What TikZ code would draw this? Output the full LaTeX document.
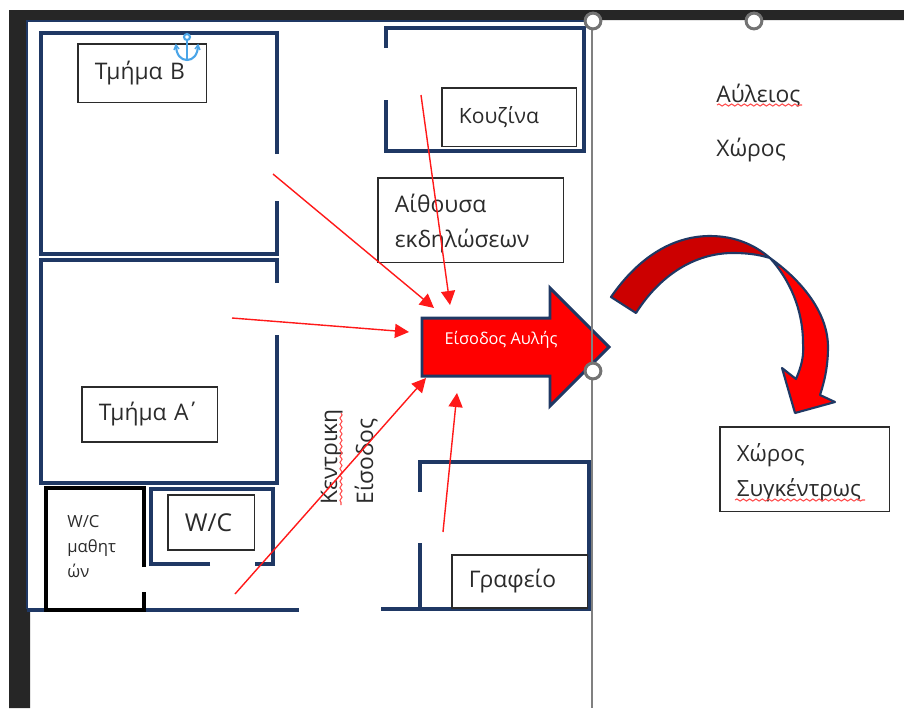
\documentclass[tikz,border=0pt]{standalone}
\usepackage{fontspec}
\setmainfont{Open Sans}
\usetikzlibrary{arrows.meta,decorations.pathmorphing}
\definecolor{wallblue}{HTML}{1F3864}
\definecolor{barblack}{HTML}{262626}
\definecolor{boxgray}{HTML}{2B2B2B}
\definecolor{anchorblue}{HTML}{4AA5E8}
\tikzset{
    wall/.style={wallblue, line width=1.8pt},
    blackwall/.style={black, line width=1.8pt},
    redarrow/.style={red!90, line width=0.8pt, -{Triangle[length=8pt,width=8pt]}},
    roombox/.style 2 args={draw=boxgray, line width=0.8pt, anchor=north west, align=left, inner xsep=9.6pt, inner ysep=0pt, outer sep=0pt,
        text width=#1*0.567pt-19.2pt, minimum height=#2*0.567pt, font=\fontsize{13}{20}\selectfont, text=boxgray},
    plainlabel/.style={anchor=base west, inner sep=0pt, font=\fontsize{13}{20}\selectfont, text=boxgray},
    squiggle/.style={red!70, line width=0.6pt, decorate, decoration={snake, amplitude=0.6pt, segment length=3.6pt}},
    handle/.style={circle, draw=gray!90!black, fill=white, line width=1.7pt, minimum size=9pt, inner sep=0pt},
    curved/.style={draw=wallblue, line width=1.2pt, line join=round}
}
\begin{document}
\begin{tikzpicture}[x=0.02cm, y=-0.02cm]
    \useasboundingbox (0,0) rectangle (904,708);
    \fill[barblack] (9,10) -- (904,10) -- (904,20) -- (27,20) -- (27,610) -- (30,610) -- (30,708) -- (9,708) -- cycle;
    \draw[wallblue, line width=1.3pt] (27,609) -- (27,21) -- (592,21);
    \draw[wall] (277,154) -- (277,33) -- (41,33) -- (41,254) -- (277,254) -- (277,201);
    \draw[wall] (277,283) -- (277,260) -- (41,260) -- (41,483) -- (277,483) -- (277,335);
    \draw[wall] (210,564) -- (151,564) -- (151,489) -- (273,489) -- (273,564) -- (255,564);
    \draw[wall] (386,48) -- (386,28) -- (584,28) -- (584,151) -- (386,151) -- (386,100);
    \draw[wall] (420,492) -- (420,462) -- (589,462) -- (589,608);
    \draw[wall] (420,543) -- (420,608);
    \draw[wall] (27,610) -- (299,610);
    \draw[wall] (381,609) -- (592,609);
    \draw[blackwall] (144,567) -- (144,488) -- (46,488) -- (46,610) -- (144,610) -- (144,592);

    \node[roombox={129}{59}] (tmimaB) at (78,44) {Τμήμα Β};
    \node[roombox={136}{55}] (tmimaA) at (82,387) {Τμήμα Α\kern-1.5pt΄};
    \node[roombox={87}{55}, font=\fontsize{14}{20}\selectfont] (wc) at (168,495) {W/C};
    \node[roombox={135}{59}, font=\fontsize{12}{20}\selectfont] (kouzina) at (442,88) {Κουζίνα};
    \node[roombox={186}{85}] (aithousa) at (378,178) {\rule{0pt}{14pt}Αίθουσα\\εκδηλώσεων};
    \node[roombox={136}{53}, fill=white] (grafeio) at (452,555) {Γραφείο};
    \node[roombox={170}{85}, font=\fontsize{12.7}{20}\selectfont] (synkentros) at (720,427) {\rule{0pt}{14pt}Χώρος\\Συγκέντρως};
    \node[plainlabel, align=left, font=\fontsize{9.5}{14}\selectfont] (wcstudents) at (67,577) {W/C\\μαθητ\\ών};
    \node[plainlabel] (avleios) at (716,102) {Αύλειος};
    \node[plainlabel] (choros) at (716,156) {Χώρος};
    \node[plainlabel, rotate=90] (kentriki) at (337,505) {Κεντρικη};
    \node[plainlabel, rotate=90] (eisodos) at (373,505) {Είσοδος};

    \coordinate (sqA) at (717,105);
    \coordinate (sqB) at (802,105);
    \coordinate (sqC) at (735,500);
    \coordinate (sqD) at (865,500);
    \coordinate (sqE) at (341,413);
    \coordinate (sqF) at (341,505);
    \draw[squiggle] (sqA) -- (sqB);
    \draw[squiggle] (sqC) -- (sqD);
    \draw[squiggle] (sqE) -- (sqF);

    \draw[fill=red, draw=wallblue, line width=1.7pt] (422,318) -- (550,318) -- (550,288) -- (609,347) -- (550,406) -- (550,376) -- (422,376) -- cycle;
    \node[white, inner sep=0pt, font=\fontsize{9.3}{10}\selectfont] (entrance) at (501,340) {Είσοδος Αυλής};

    \draw[curved, fill=red!80!black] (611,297) .. controls (640,255) and (675,236) .. (710,236) .. controls (735,236) and (755,245) .. (770,258) .. controls (757,254) and (745,253) .. (733,253) .. controls (695,253) and (660,275) .. (636,313) -- cycle;
    \draw[curved, fill=red] (770,258) .. controls (805,283) and (828,315) .. (828,347) .. controls (828,365) and (825,380) .. (820,395) -- (835,402) -- (795,413) -- (782,368) -- (796,379) .. controls (802,365) and (804,355) .. (803,343) .. controls (803,310) and (790,280) .. (770,258) -- cycle;

    \draw[gray, line width=0.8pt] (592,21) -- (592,708);

    \coordinate (fromB) at (273,174);
    \coordinate (toB) at (434,308);
    \coordinate (fromA) at (232,318);
    \coordinate (toA) at (409,332);
    \coordinate (fromKitchen) at (421,95);
    \coordinate (toKitchen) at (450,305);
    \coordinate (fromDoor) at (235,594);
    \coordinate (toDoor) at (426,378);
    \coordinate (fromOffice) at (443,532);
    \coordinate (toOffice) at (457,393);
    \draw[redarrow] (fromB) -- (toB);
    \draw[redarrow] (fromA) -- (toA);
    \draw[redarrow] (fromKitchen) -- (toKitchen);
    \draw[redarrow] (fromDoor) -- (toDoor);
    \draw[redarrow] (fromOffice) -- (toOffice);

    \draw[anchorblue, line width=1.2pt] (187,37) circle (3);
    \draw[anchorblue, line width=1.2pt] (187,40) -- (187,60);
    \draw[anchorblue, line width=1.2pt] (176,45) .. controls (176,55) and (181,60) .. (187,60) .. controls (193,60) and (198,55) .. (198,45);
    \draw[anchorblue, line width=0.8pt] (174,50) -- (176,45) -- (179,49);
    \draw[anchorblue, line width=0.8pt] (195,49) -- (198,45) -- (200,50);

    \node[handle] (handleA) at (593,21) {};
    \node[handle] (handleB) at (754,21) {};
    \node[handle] (handleC) at (593,371) {};
\end{tikzpicture}
\end{document}
